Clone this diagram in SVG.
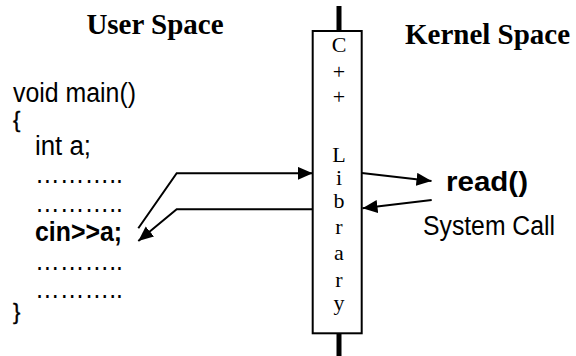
<svg xmlns="http://www.w3.org/2000/svg" width="576" height="356" viewBox="0 0 576 356">
  <style>
    .title { font-family: "Liberation Serif", "Times New Roman", serif; font-weight: bold; font-size: 29px; fill: #000; }
    .code { font-family: "Liberation Sans", Arial, sans-serif; font-size: 27px; fill: #000; }
    .brace { font-size: 22px; }
    .bold { font-weight: bold; }
    .lib { font-family: "Liberation Serif", "Times New Roman", serif; font-size: 22px; fill: #000; text-anchor: middle; }
    .wire { fill: none; stroke: #000; stroke-width: 2; }
  </style>
  <defs>
    <marker id="head" markerUnits="userSpaceOnUse" markerWidth="16" markerHeight="14" refX="15" refY="6.5" orient="auto">
      <path d="M0,0 L15,6.5 L0,13 z" fill="#000"/>
    </marker>
  </defs>
  <rect width="576" height="356" fill="#fff"/>

  <!-- headings -->
  <g id="user-space">
    <text class="title" x="155" y="34" text-anchor="middle">User Space</text>
  </g>
  <g id="kernel-space">
    <text class="title" x="405" y="44">Kernel Space</text>
  </g>

  <!-- program source -->
  <g id="program" class="code">
    <text x="13" y="102" textLength="123" lengthAdjust="spacingAndGlyphs">void main()</text>
    <text x="13" y="127" class="brace" stroke="#000" stroke-width="0.4">{</text>
    <text x="35" y="155" textLength="56" lengthAdjust="spacingAndGlyphs">int a;</text>
    <text x="35" y="183" textLength="88" lengthAdjust="spacingAndGlyphs">………..</text>
    <text x="35" y="212" textLength="88" lengthAdjust="spacingAndGlyphs">………..</text>
    <text x="35" y="241" class="bold" textLength="87" lengthAdjust="spacingAndGlyphs">cin&gt;&gt;a;</text>
    <text x="35" y="270" textLength="88" lengthAdjust="spacingAndGlyphs">………..</text>
    <text x="35" y="298" textLength="88" lengthAdjust="spacingAndGlyphs">………..</text>
    <text x="13" y="319" class="brace" stroke="#000" stroke-width="0.4">}</text>
  </g>

  <!-- C++ library column -->
  <g id="library">
    <line x1="339" y1="6" x2="339" y2="31" stroke="#000" stroke-width="5"/>
    <line x1="339" y1="333" x2="339" y2="356" stroke="#000" stroke-width="5"/>
    <rect x="312.7" y="31" width="49" height="302.3" fill="#fff" stroke="#000" stroke-width="2"/>
    <text class="lib" x="339" y="52">C</text>
    <text class="lib" x="339" y="79">+</text>
    <text class="lib" x="339" y="104">+</text>
    <text class="lib" x="339" y="162">L</text>
    <text class="lib" x="339" y="185">i</text>
    <text class="lib" x="339" y="208">b</text>
    <text class="lib" x="339" y="234">r</text>
    <text class="lib" x="339" y="260">a</text>
    <text class="lib" x="339" y="287">r</text>
    <text class="lib" x="339" y="310">y</text>
  </g>

  <!-- system call -->
  <g id="read-call">
    <text class="code bold" x="446" y="191" font-size="29" textLength="82" lengthAdjust="spacingAndGlyphs">read()</text>
    <text class="code" x="423" y="235" textLength="132" lengthAdjust="spacingAndGlyphs">System Call</text>
  </g>

  <!-- connectors -->
  <g id="connectors">
    <polyline class="wire" points="138.3,228.3 176.7,173.3 312.7,173.3" marker-end="url(#head)"/>
    <polyline class="wire" points="312.7,209.3 176.7,209.3 138.3,241" marker-end="url(#head)"/>
    <line class="wire" x1="361.7" y1="173" x2="431.5" y2="181" marker-end="url(#head)"/>
    <line class="wire" x1="431.7" y1="200" x2="362.5" y2="208.3" marker-end="url(#head)"/>
  </g>
</svg>
